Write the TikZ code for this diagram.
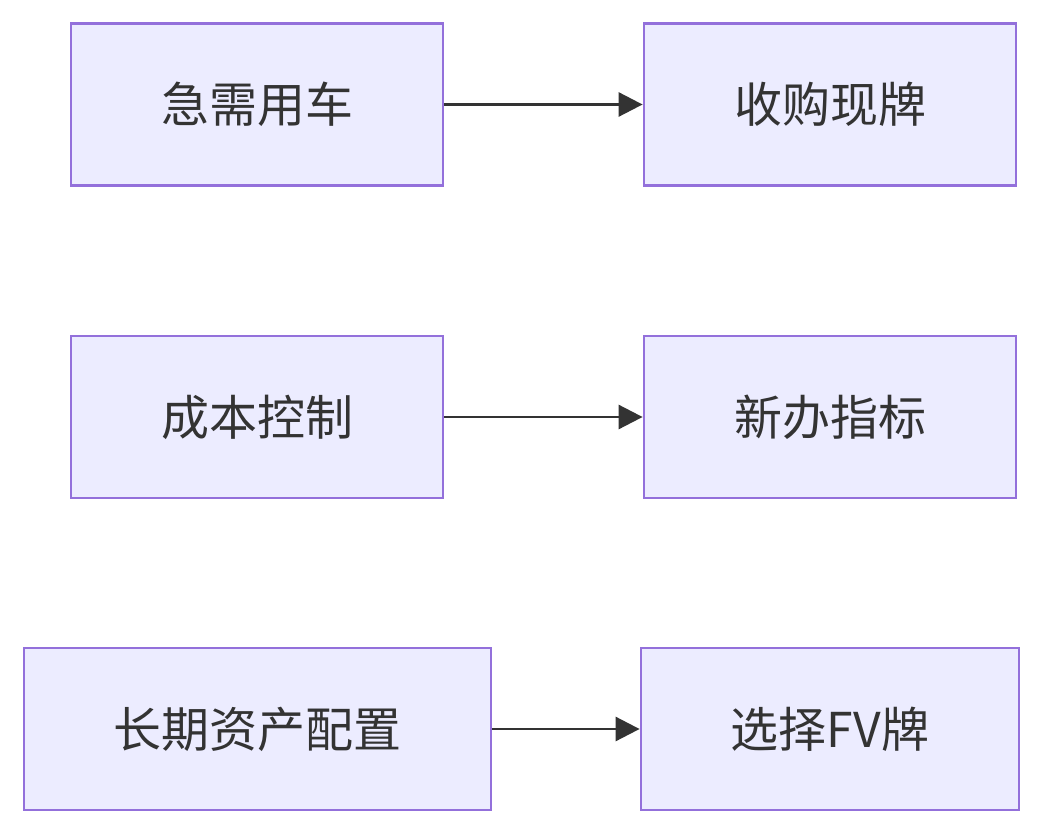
\documentclass[tikz,border=0pt]{standalone}
\usepackage{fontspec}
\newfontfamily\cjk{Noto Sans CJK SC}
\usetikzlibrary{arrows.meta}
\definecolor{boxfill}{HTML}{ECECFF}
\definecolor{boxline}{HTML}{9370DB}
\definecolor{ink}{HTML}{333333}
\begin{document}
\begin{tikzpicture}[x=1pt,y=-1pt,
    box/.style={draw=boxline,fill=boxfill,line width=2.8pt,minimum height=162pt,
      text=ink,font=\cjk\fontsize{48}{56}\selectfont,inner sep=0pt},
    link/.style={draw=ink,line width=2.8pt,-{Triangle[length=24pt,width=24pt]}}]
      \useasboundingbox (0,0) rectangle (1043,834);
      \node[box,minimum width=372pt] at (257,104.5) (need){急需用车};
      \node[box,minimum width=372pt] at (830,104.5) (buy){收购现牌};
      \node[box,minimum width=372pt] at (257,417) (cost){成本控制};
      \node[box,minimum width=372pt] at (830,417) (quota){新办指标};
      \node[box,minimum width=467pt] at (257.5,729) (asset){长期资产配置};
      \node[box,minimum width=378pt] at (830,729) (fv){选择FV牌};
      \draw[link] (need) -- (buy);
      \draw[link] (cost) -- (quota);
      \draw[link] (asset) -- (fv);
    \end{tikzpicture}
\end{document}
